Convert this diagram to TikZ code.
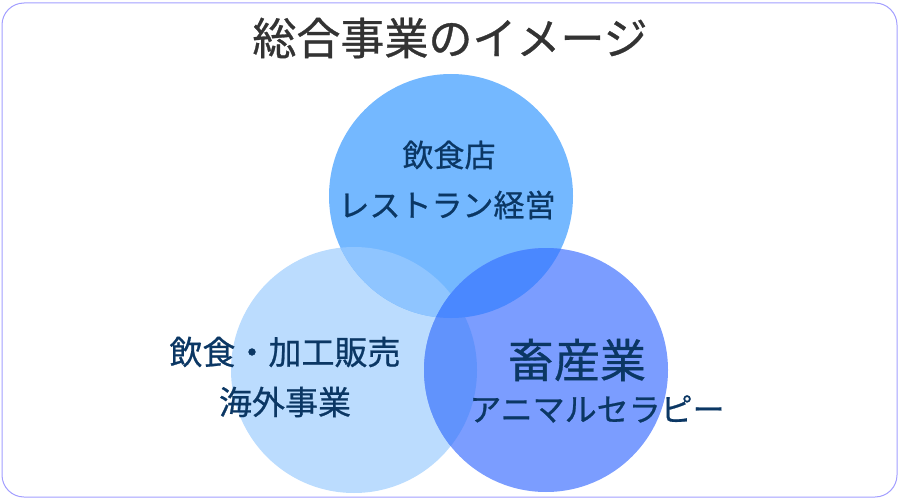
\documentclass[tikz,border=0pt]{standalone}
\usepackage{fontspec}
\setmainfont{Noto Sans CJK JP}
\newfontfamily\jpmed[FakeBold=0.7]{Noto Sans CJK JP}
\usepackage{tikz}
\usetikzlibrary{positioning}
\definecolor{framepurple}{HTML}{A29EFF}
\definecolor{titlegray}{HTML}{333333}
\definecolor{labelnavy}{HTML}{0B3764}
\definecolor{topblue}{HTML}{74B8FF}
\definecolor{leftblue}{HTML}{BBDCFE}
\definecolor{rightblue}{HTML}{7B9DFF}
\definecolor{tlblue}{HTML}{8FC5FF}
\definecolor{trblue}{HTML}{4A88FF}
\definecolor{lrblue}{HTML}{6193FC}
\tikzset{frame/.style={draw=framepurple,line width=1pt,rounded corners=22pt},
 title/.style={text=titlegray,inner sep=0pt,font=\jpmed\fontsize{44}{50}\selectfont},
 label/.style={text=labelnavy,inner sep=0pt,font=\jpmed\fontsize{31}{36}\selectfont},
 biglabel/.style={label,font=\jpmed\fontsize{46}{52}\selectfont},
 leftlabel/.style={label,font=\jpmed\fontsize{33}{38}\selectfont},
 rightlabel/.style={label,font=\jpmed\fontsize{32}{38}\selectfont}}
\begin{document}
\begin{tikzpicture}[x=1pt,y=-1pt]
 \useasboundingbox (0,0) rectangle (900,500);
 \draw[frame] (2,3) rectangle (897,497);
 \node[title] (heading) at (450,38) {総合事業のイメージ};
 % three business circles
 \coordinate (ctop) at (451,196);
 \coordinate (cleft) at (354,370);
 \coordinate (cright) at (546,370);
 \fill[leftblue] (cleft) circle[radius=123pt];
 \fill[topblue] (ctop) circle[radius=122pt];
 \fill[rightblue] (cright) circle[radius=122pt];
 \begin{scope}
  \clip (ctop) circle[radius=122pt];
  \fill[tlblue] (cleft) circle[radius=123pt];
 \end{scope}
 \begin{scope}
  \clip (cleft) circle[radius=123pt];
  \fill[lrblue] (cright) circle[radius=122pt];
 \end{scope}
 \begin{scope}
  \clip (ctop) circle[radius=122pt];
  \fill[trblue] (cright) circle[radius=122pt];
 \end{scope}
 % labels
 \node[label] (shop) at (449,155) {飲食店};
 \node[label] (restaurant) at (447,205) {レストラン経営};
 \node[leftlabel] (sales) at (285,352) {飲食・加工販売};
 \node[leftlabel] (overseas) at (285,402) {海外事業};
 \node[biglabel] (livestock) at (577,360) {畜産業};
 \node[rightlabel] (therapy) at (597,409) {アニマルセラピー};
\end{tikzpicture}
\end{document}
